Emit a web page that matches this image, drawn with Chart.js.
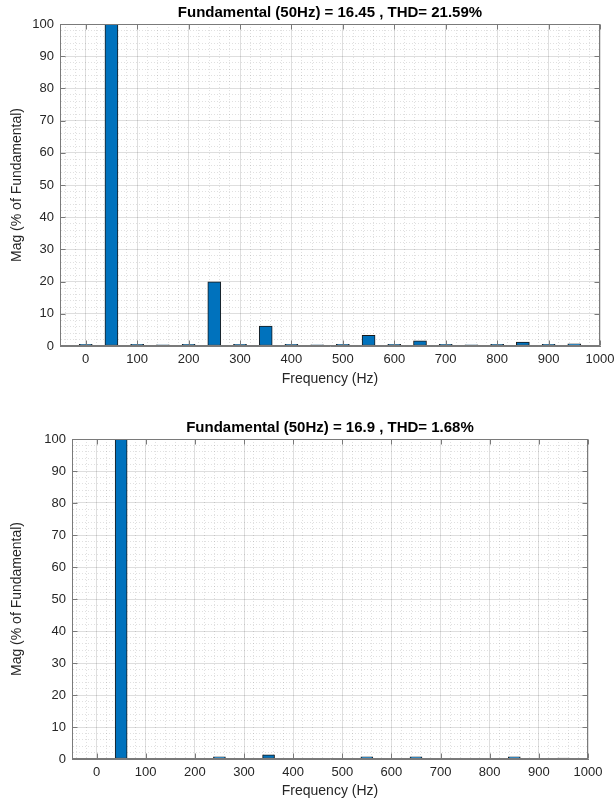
<!DOCTYPE html>
<html><head><meta charset="utf-8">
<script src="https://cdn.jsdelivr.net/npm/chart.js@4/dist/chart.umd.min.js"></script>
<style>
html,body{margin:0;padding:0;background:#fff;}
#wrap{position:relative;width:616px;height:802px;overflow:hidden;}
.box{position:absolute;left:0;width:616px;}
</style></head><body>
<div id="wrap">
<div class="box" style="top:0;height:400px"><canvas id="c1"></canvas></div>
<div class="box" style="top:400px;height:402px"><canvas id="c2"></canvas></div>
</div>
<script>
const frequencies = [0,50,100,150,200,250,300,350,400,450,500,550,600,650,700,750,800,850,900,950];
const magnitudeTop = [0.5,100,0.5,0.4,0.5,19.9,0.5,6.2,0.5,0.4,0.5,3.3,0.5,1.6,0.5,0.4,0.5,1.2,0.5,0.7];
const magnitudeBottom = [0,100,0,0,0,0.7,0,1.3,0,0,0,0.7,0,0.7,0,0,0,0.7,0,0.3];
const titleTop = 'Fundamental (50Hz) = 16.45 , THD= 21.59%';
const titleBottom = 'Fundamental (50Hz) = 16.9 , THD= 1.68%';
const xAxisTitle = 'Frequency (Hz)';
const yAxisTitle = 'Mag (% of Fundamental)';
const xTickLabels = [0,100,200,300,400,500,600,700,800,900,1000];
const yTickLabels = [0,10,20,30,40,50,60,70,80,90,100];

const FONT = '"Liberation Sans", Arial, Helvetica, sans-serif';
const frameColor = '#7a7a7a';
const majorGrid = 'rgba(0,0,0,0.13)';
const minorGrid = 'rgba(0,0,0,0.12)';

const matlabFrame = {
  id: 'matlabFrame',
  afterDatasetsDraw(chart, args, opts) {
    const {ctx, chartArea, scales} = chart;
    const l = Math.round(chartArea.left) + 0.5, r = Math.round(chartArea.right) - 0.5;
    const t = Math.round(chartArea.top) + 0.5, b = Math.round(chartArea.bottom) - 0.5;
    ctx.save();
    ctx.strokeStyle = frameColor;
    ctx.lineWidth = 1;
    ctx.strokeRect(l, t, r - l, b - t);
    ctx.beginPath();
    xTickLabels.forEach(v => {
      const px = Math.round(scales.x.getPixelForValue(v)) + 0.5;
      ctx.moveTo(px, b); ctx.lineTo(px, b - 5);
      ctx.moveTo(px, t); ctx.lineTo(px, t + 5);
    });
    yTickLabels.forEach(v => {
      const py = Math.round(scales.y.getPixelForValue(v)) + 0.5;
      ctx.moveTo(l, py); ctx.lineTo(l + 5, py);
      ctx.moveTo(r, py); ctx.lineTo(r - 5, py);
    });
    ctx.stroke();
    ctx.fillStyle = '#000';
    ctx.font = 'bold 15px ' + FONT;
    ctx.textAlign = 'center';
    ctx.textBaseline = 'middle';
    ctx.fillText(opts.text, (chartArea.left + chartArea.right) / 2, chartArea.top - 11);
    ctx.restore();
  }
};

function makeChart(id, values, title, g) {
  new Chart(document.getElementById(id), {
    type: 'bar',
    data: {
      datasets: [{
        data: frequencies.map((f, i) => ({x: f, y: values[i]})),
        backgroundColor: '#0072BD',
        borderColor: '#1a1a1a',
        borderWidth: 1,
        borderSkipped: false,
        barThickness: g.bar
      }]
    },
    options: {
      responsive: true,
      maintainAspectRatio: false,
      animation: false,
      events: [],
      layout: {padding: {left: 0, right: g.right, top: g.top, bottom: g.bottom}},
      plugins: {
        legend: {display: false},
        tooltip: {enabled: false},
        title: {display: false},
        matlabFrame: {text: title}
      },
      scales: {
        x: {
          type: 'linear',
          min: -50, max: 1000,
          offset: false,
          afterFit: s => { s.height = g.xh; s.paddingLeft = 0; s.paddingRight = 0; },
          ticks: {
            stepSize: 20,
            includeBounds: false,
            autoSkip: false,
            maxRotation: 0,
            padding: 6,
            color: '#262626',
            font: {family: FONT, size: 13},
            callback: v => xTickLabels.includes(Math.round(v)) ? String(Math.round(v)) : ''
          },
          grid: {
            offset: false,
            drawTicks: false,
            lineWidth: 1,
            color: c => (Math.round(c.tick.value) % 100 === 0) ? majorGrid : minorGrid
          },
          border: {
            display: true, color: frameColor,
            dash: c => (c.tick && Math.round(c.tick.value) % 100 === 0) ? [] : [1, 2]
          },
          title: {display: true, text: xAxisTitle, color: '#262626', font: {family: FONT, size: 14}, padding: {top: 0, bottom: 0}}
        },
        y: {
          min: 0, max: 100,
          afterFit: s => { s.width = g.left; s.paddingTop = 0; s.paddingBottom = 0; },
          ticks: {
            stepSize: 2,
            autoSkip: false,
            padding: 6,
            color: '#262626',
            font: {family: FONT, size: 13},
            callback: v => yTickLabels.includes(Math.round(v)) ? String(Math.round(v)) : ''
          },
          grid: {
            drawTicks: false,
            lineWidth: 1,
            color: c => (Math.round(c.tick.value) % 10 === 0) ? majorGrid : minorGrid
          },
          border: {
            display: true, color: frameColor,
            dash: c => (c.tick && Math.round(c.tick.value) % 10 === 0) ? [] : [1, 2]
          },
          title: {display: true, text: yAxisTitle, color: '#262626', font: {family: FONT, size: 14}, padding: {top: 9, bottom: 0}}
        }
      }
    },
    plugins: [matlabFrame]
  });
}

makeChart('c1', magnitudeTop, titleTop, {left: 60, right: 16, top: 24, bottom: 12, xh: 42, bar: 13});
makeChart('c2', magnitudeBottom, titleBottom, {left: 72, right: 28, top: 39, bottom: 2, xh: 41, bar: 12});
</script>
</body></html>
